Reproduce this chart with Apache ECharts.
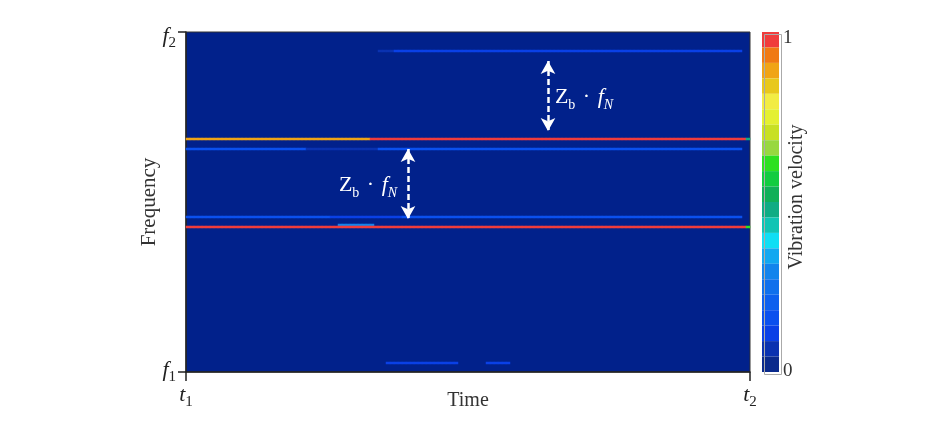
<!DOCTYPE html>
<html>
<head>
<meta charset="utf-8">
<script src="https://cdn.jsdelivr.net/npm/echarts@6/dist/echarts.min.js"></script>
<style>html,body{margin:0;padding:0;background:#fff}#c{width:950px;height:428px}</style>
</head>
<body>
<div id="c"></div>
<script>
// ---- data (time bins 0..140, frequency bins 0..169) ----
const timeBins = Array.from({length: 141}, (_, i) => String(i));
const freqBins = Array.from({length: 170}, (_, i) => String(i));

// each line: frequency bin + runs of [startTimeBin, endTimeBin(excl), value]
const rowTop = 160;      const runsTop = [[48, 52, 0.07], [52, 139, 0.13]];
const rowHarm = 116;     const runsHarm = [[0, 46, 0.87], [46, 56, 0.98], [56, 140, 0.96], [140, 141, 0.5]];
const rowSideU = 111;    const runsSideU = [[0, 30, 0.14], [30, 48, 0.09], [48, 139, 0.16]];
const rowSideL = 77;     const runsSideL = [[0, 36, 0.15], [36, 54, 0.1], [54, 139, 0.15]];
const rowFundEdge = 73;  const runsFundEdge = [[38, 47, 0.3]];
const rowFund = 72;      const runsFund = [[0, 140, 0.97], [140, 141, 0.6]];
const rowLow = 4;        const runsLow = [[50, 68, 0.1], [75, 81, 0.1]];

const colorBands = ['#0a2a8c','#0a32b0','#0a40e6','#0b50ee','#0d60ee','#1070ec','#1384ec','#12a8f0',
  '#10def4','#10c4b4','#10ac84','#10b058','#12cc40','#2ee020','#98d840','#c8e024','#e4f032',
  '#f2ec44','#e8c81c','#f0a416','#f07a14','#f03c3c'];

const xTickLabels = ['t', 't'];
const yTickLabels = ['f', 'f'];

// ---- build ----
const lines = [[rowTop, runsTop], [rowHarm, runsHarm], [rowSideU, runsSideU], [rowSideL, runsSideL],
  [rowFundEdge, runsFundEdge], [rowFund, runsFund], [rowLow, runsLow]];
const heat = [];
lines.forEach(([row, runs]) => runs.forEach(([s, e, v]) => { for (let t = s; t < e; t++) heat.push([t, row, v]); }));

const n = colorBands.length;
const pieces = colorBands.map((c, i) => ({min: i / n, max: (i + 1) / n, color: c}));

const serif = 'Liberation Serif';
const subRich = {
  i: {fontFamily: serif, fontStyle: 'italic', fontSize: 22, color: '#222', verticalAlign: 'bottom', padding: [0, 0, 4, 0]},
  s: {fontFamily: serif, fontSize: 15, color: '#222', verticalAlign: 'bottom'},
  i2: {fontFamily: serif, fontStyle: 'italic', fontSize: 22, color: '#222', verticalAlign: 'bottom', padding: [12, 0, 4, 0]},
  s2: {fontFamily: serif, fontSize: 15, color: '#222', verticalAlign: 'bottom'}
};
const annRich = {
  z: {fontFamily: serif, fontSize: 22, color: '#fff', verticalAlign: 'bottom', padding: [0, 0, 4, 0]},
  b: {fontFamily: serif, fontSize: 14, color: '#fff', verticalAlign: 'bottom'},
  d: {fontFamily: serif, fontSize: 22, color: '#fff', verticalAlign: 'bottom', padding: [0, 2, 4, 2]},
  f: {fontFamily: serif, fontStyle: 'italic', fontSize: 22, color: '#fff', verticalAlign: 'bottom', padding: [0, 0, 4, 0]},
  n: {fontFamily: serif, fontStyle: 'italic', fontSize: 14, color: '#fff', verticalAlign: 'bottom'}
};
const annText = '{z|Z}{b|b}{d| · }{f|f}{n|N}';

const chart = echarts.init(document.getElementById('c'), null, {renderer: 'canvas'});
chart.setOption({
  animation: false,
  backgroundColor: '#fff',
  grid: {left: 186, top: 32, width: 564, height: 340, show: true, backgroundColor: '#01218b',
         borderColor: '#333', borderWidth: 1, containLabel: false, outerBoundsMode: 'none'},
  xAxis: [
    {type: 'category', data: timeBins, show: false, boundaryGap: true},
    {type: 'value', min: 0, max: 1, interval: 1, position: 'bottom',
     axisLine: {show: true, lineStyle: {color: '#222', width: 1.5}},
     axisTick: {show: true, length: 9, lineStyle: {color: '#222', width: 1.5}},
     splitLine: {show: false},
     axisLabel: {margin: 12, formatter: v => '{i|' + xTickLabels[v] + '}{s|' + (v + 1) + '}', rich: subRich},
     name: 'Time', nameLocation: 'middle', nameGap: 19, nameMoveOverlap: false,
     nameTextStyle: {fontFamily: serif, fontSize: 20, color: '#333'}}
  ],
  yAxis: [
    {type: 'category', data: freqBins, show: false, boundaryGap: true},
    {type: 'value', min: 0, max: 1, interval: 1, position: 'left',
     axisLine: {show: true, lineStyle: {color: '#222', width: 1.5}},
     axisTick: {show: true, length: 8, lineStyle: {color: '#222', width: 1.5}},
     splitLine: {show: false},
     axisLabel: {margin: 10, formatter: v => (v === 1 ? '{i2|' : '{i|') + yTickLabels[v] + '}' + (v === 1 ? '{s2|' : '{s|') + (v + 1) + '}', rich: subRich},
     name: 'Frequency', nameLocation: 'middle', nameGap: 26, nameMoveOverlap: false,
     nameTextStyle: {fontFamily: serif, fontSize: 21, color: '#333'}}
  ],
  visualMap: {
    type: 'piecewise', seriesIndex: 0, dimension: 2, pieces: pieces,
    orient: 'vertical', left: 762, top: 32, padding: 0,
    itemWidth: 17, itemHeight: 340 / n, itemGap: 0, itemSymbol: 'rect',
    showLabel: false, selectedMode: false, hoverLink: false,
    outOfRange: {color: '#01218b'}
  },
  graphic: [
    {type: 'rect', left: 762, top: 32, shape: {width: 17, height: 340}, style: {fill: 'none', stroke: '#aaa', lineWidth: 1}, z: 100},
    {type: 'text', x: 783, y: 38, style: {text: '1', font: '19px "Liberation Serif"', fill: '#333', textVerticalAlign: 'middle'}},
    {type: 'text', x: 783, y: 371, style: {text: '0', font: '19px "Liberation Serif"', fill: '#333', textVerticalAlign: 'middle'}},
    {type: 'text', x: 797, y: 197, rotation: Math.PI / 2, originX: 0, originY: 0,
     style: {text: 'Vibration velocity', font: '20px "Liberation Serif"', fill: '#333', textAlign: 'center', textVerticalAlign: 'middle'}}
  ],
  series: [
    {type: 'heatmap', xAxisIndex: 0, yAxisIndex: 0, data: heat, progressive: 0,
     itemStyle: {borderWidth: 0}, emphasis: {disabled: true}},
    {type: 'scatter', xAxisIndex: 0, yAxisIndex: 0, data: [], silent: true,
     markLine: {silent: true, symbol: ['arrow', 'arrow'], symbolSize: [11, 13],
       lineStyle: {color: '#fff', type: [6, 3], width: 2.5}, label: {show: false},
       data: [
         [{coord: ['90', '155']}, {coord: ['90', '120']}],
         [{coord: ['55', '111']}, {coord: ['55', '76']}]
       ]},
     markPoint: {silent: true, symbol: 'circle', symbolSize: 0,
       label: {show: true, position: 'inside', formatter: annText, rich: annRich},
       data: [{coord: ['99', '136']}, {coord: ['45', '92']}]}
    }
  ]
});
</script>
</body>
</html>
